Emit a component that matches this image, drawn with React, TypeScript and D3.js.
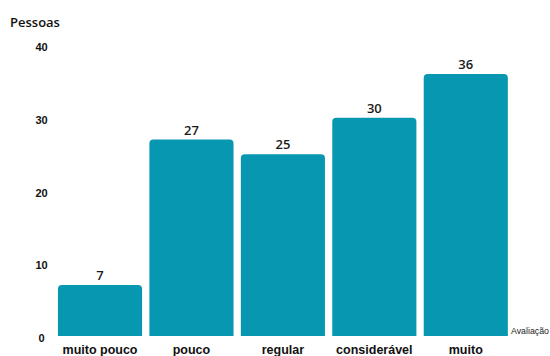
import React from "react";
import * as d3 from "d3";

const categories = ["muito pouco", "pouco", "regular", "considerável", "muito"];
const values = [7, 27, 25, 30, 36];
const yTicks = [0, 10, 20, 30, 40];
const yTitle = "Pessoas";
const xTitle = "Avaliação";

const W = 550;
const H = 356;
const BAR = "#0897b1";

export default function App() {
  const x = d3
    .scaleBand<string>()
    .domain(categories)
    .range([54.3, 511.5])
    .paddingInner(0.08)
    .paddingOuter(0.04);
  const y = d3.scaleLinear().domain([0, 40]).range([336, 45]);
  const r = 4;

  const barPath = (c: string, v: number) => {
    const x0 = x(c)!;
    const w = x.bandwidth();
    const y0 = y(0);
    const y1 = y(v);
    return `M${x0},${y0} L${x0},${y1 + r} Q${x0},${y1} ${x0 + r},${y1} L${x0 + w - r},${y1} Q${x0 + w},${y1} ${x0 + w},${y1 + r} L${x0 + w},${y0} Z`;
  };

  return (
    <svg
      width={W}
      height={H}
      style={{ position: "absolute", left: 0, top: 0, background: "#fff" }}
    >
      <text x={10} y={27} fontFamily="Open Sans, sans-serif" fontSize={13} fontWeight={600} fill="#111">
        {yTitle}
      </text>
      {yTicks.map((t) => (
        <text
          key={t}
          x={41.5}
          y={y(t) + 6}
          textAnchor="middle"
          fontFamily="Liberation Sans, Arial, sans-serif"
          fontSize={11}
          fontWeight="bold"
          fill="#111"
        >
          {t}
        </text>
      ))}
      {categories.map((c, i) => (
        <g key={c}>
          <path d={barPath(c, values[i])} fill={BAR} />
          <text
            x={x(c)! + x.bandwidth() / 2}
            y={y(values[i]) - 5}
            textAnchor="middle"
            fontFamily="Open Sans, sans-serif"
            fontSize={13}
            fontWeight={600}
            fill="#1a1a1a"
          >
            {values[i]}
          </text>
          <text
            x={x(c)! + x.bandwidth() / 2}
            y={354}
            textAnchor="middle"
            fontFamily="Liberation Sans, Arial, sans-serif"
            fontSize={12.5}
            fontWeight="bold"
            fill="#111"
          >
            {c}
          </text>
        </g>
      ))}
      <text x={511} y={334} fontFamily="Liberation Sans, Arial, sans-serif" fontSize={8.8} fill="#222">
        {xTitle}
      </text>
    </svg>
  );
}
